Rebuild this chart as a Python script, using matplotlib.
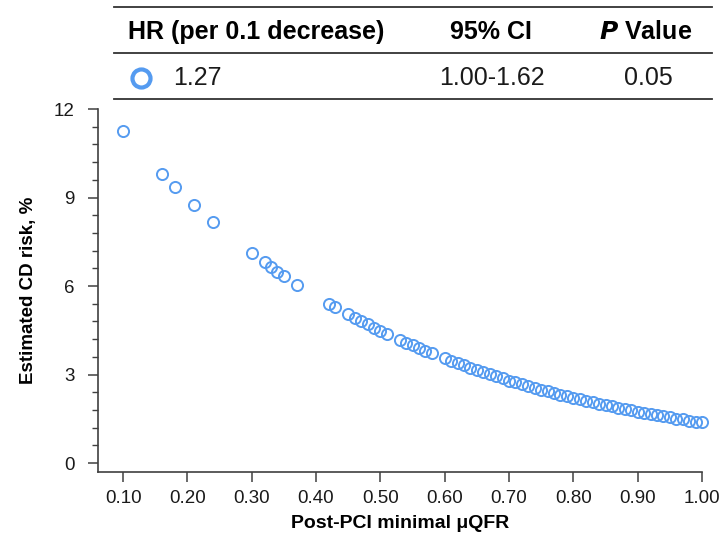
import matplotlib
matplotlib.use("Agg")
import matplotlib.pyplot as plt
from matplotlib.lines import Line2D
from matplotlib.ticker import MultipleLocator

plt.rcParams['font.family'] = ['Liberation Sans', 'DejaVu Sans']

# values
qfr = [0.10, 0.16, 0.18, 0.21, 0.24, 0.30, 0.32, 0.33, 0.34, 0.35, 0.37,
       0.42, 0.43, 0.45, 0.46, 0.47, 0.48, 0.49, 0.50, 0.51,
       0.53, 0.54, 0.55, 0.56, 0.57, 0.58,
       0.60, 0.61, 0.62, 0.63, 0.64, 0.65, 0.66, 0.67, 0.68, 0.69,
       0.70, 0.71, 0.72, 0.73, 0.74, 0.75, 0.76, 0.77, 0.78, 0.79,
       0.80, 0.81, 0.82, 0.83, 0.84, 0.85, 0.86, 0.87, 0.88, 0.89,
       0.90, 0.91, 0.92, 0.93, 0.94, 0.95, 0.96, 0.97, 0.98, 0.99, 1.00]
risk = [11.25, 9.81, 9.37, 8.76, 8.18, 7.11, 6.80, 6.64, 6.49, 6.34, 6.05,
        5.40, 5.28, 5.04, 4.92, 4.81, 4.70, 4.59, 4.49, 4.39,
        4.18, 4.08, 3.99, 3.90, 3.81, 3.72,
        3.55, 3.47, 3.39, 3.31, 3.23, 3.15, 3.08, 3.01, 2.94, 2.87,
        2.80, 2.74, 2.67, 2.61, 2.55, 2.49, 2.43, 2.37, 2.32, 2.26,
        2.21, 2.16, 2.11, 2.06, 2.01, 1.96, 1.92, 1.87, 1.83, 1.79,
        1.74, 1.70, 1.66, 1.62, 1.59, 1.55, 1.51, 1.48, 1.44, 1.41, 1.38]

x_ticks = [0.10, 0.20, 0.30, 0.40, 0.50, 0.60, 0.70, 0.80, 0.90, 1.00]
y_ticks = [0, 3, 6, 9, 12]

table_head = ["HR (per 0.1 decrease)", "95% CI", "$\\mathbfit{P}$ Value"]
table_row = ["1.27", "1.00-1.62", "0.05"]

BLUE = '#559BF0'
W, H = 725, 535

fig = plt.figure(figsize=(W / 100, H / 100), dpi=100)

def fx(px):
    return px / W

def fy(py):
    return 1 - py / H

ax = fig.add_axes([fx(98), fy(472), fx(702) - fx(98), fy(109) - fy(472)])
ax.plot(qfr, risk, 'o', ms=8, mfc='none', mec=BLUE, mew=1.4, clip_on=False)

ax.set_xlim(0.061, 1.0)
ax.set_ylim(-0.3, 12)
ax.set_xticks(x_ticks)
ax.set_xticklabels(["%.2f" % v for v in x_ticks])
ax.set_yticks(y_ticks)
ax.yaxis.set_minor_locator(MultipleLocator(0.6))

for s in ['top', 'right']:
    ax.spines[s].set_visible(False)
for s in ['left', 'bottom']:
    ax.spines[s].set_color('#404040')
    ax.spines[s].set_linewidth(1.2)

ax.tick_params(axis='both', which='major', length=7, width=1.1, color='#404040',
               labelsize=13.5, labelcolor='#1a1a1a')
ax.tick_params(axis='x', pad=6)
ax.tick_params(axis='y', pad=10)
ax.tick_params(axis='y', which='minor', length=4, width=1.0, color='#404040')

ax.set_xlabel("Post-PCI minimal μQFR", fontsize=14, fontweight='bold', labelpad=6)
ax.set_ylabel("Estimated CD risk, %", fontsize=13.5, fontweight='bold', labelpad=12)

# table on top
for py in [7, 53, 99]:
    fig.add_artist(Line2D([fx(114), fx(712)], [fy(py), fy(py)], color='#333333', lw=1.3))

fig.text(fx(128), fy(32), table_head[0], fontsize=18, fontweight='bold', va='center', ha='left')
fig.text(fx(491), fy(32), table_head[1], fontsize=18, fontweight='bold', va='center', ha='center')
fig.text(fx(646), fy(32), table_head[2], fontsize=18, fontweight='bold', va='center', ha='center')

fig.add_artist(Line2D([fx(140.5)], [fy(77.5)], marker='o', ms=13, mfc='none', mec=BLUE, mew=3))
fig.text(fx(173), fy(78), table_row[0], fontsize=18, va='center', ha='left', color='#1a1a1a')
fig.text(fx(492), fy(78), table_row[1], fontsize=18, va='center', ha='center', color='#1a1a1a')
fig.text(fx(648), fy(78), table_row[2], fontsize=18, va='center', ha='center', color='#1a1a1a')

fig.savefig("out.png", dpi=100)
